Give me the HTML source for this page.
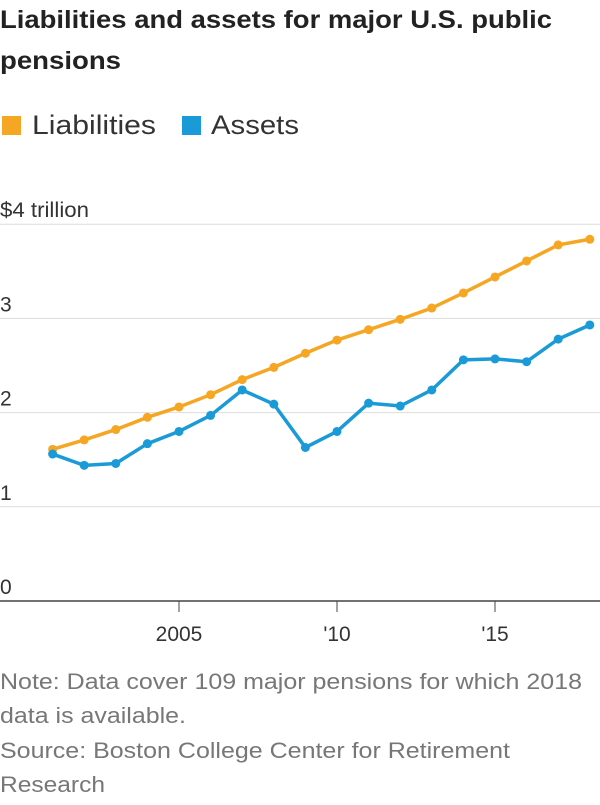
<!DOCTYPE html>
<html><head><meta charset="utf-8"><style>
body{margin:0;background:#fff;width:600px;height:800px;overflow:hidden;font-family:"Liberation Sans",sans-serif;}
svg text{font-family:"Liberation Sans",sans-serif;}
</style></head><body>
<svg width="600" height="800">
<text x="0" y="28" font-size="25" font-weight="bold" fill="#222" textLength="552" lengthAdjust="spacingAndGlyphs">Liabilities and assets for major U.S. public</text>
<text x="0" y="69" font-size="25" font-weight="bold" fill="#222" textLength="121" lengthAdjust="spacingAndGlyphs">pensions</text>
<g>
<rect x="2" y="116" width="19" height="19" fill="#f5a623"/>
<text x="32" y="134" font-size="27" fill="#333" textLength="124" lengthAdjust="spacingAndGlyphs">Liabilities</text>
<rect x="182" y="116" width="19" height="19" fill="#1a9ad6"/>
<text x="211" y="134" font-size="27" fill="#333" textLength="88" lengthAdjust="spacingAndGlyphs">Assets</text>
</g>
<g id="plot"></g>
<text x="0" y="689" font-size="22" fill="#777" textLength="582" lengthAdjust="spacingAndGlyphs">Note: Data cover 109 major pensions for which 2018</text>
<text x="0" y="723" font-size="22" fill="#777" textLength="186" lengthAdjust="spacingAndGlyphs">data is available.</text>
<text x="0" y="758" font-size="22" fill="#777" textLength="510" lengthAdjust="spacingAndGlyphs">Source: Boston College Center for Retirement</text>
<text x="0" y="792" font-size="22" fill="#777" textLength="105" lengthAdjust="spacingAndGlyphs">Research</text>
</svg>
<script>
const years=[2001,2002,2003,2004,2005,2006,2007,2008,2009,2010,2011,2012,2013,2014,2015,2016,2017,2018];
const liabilities=[1.61,1.71,1.82,1.95,2.06,2.19,2.35,2.48,2.63,2.77,2.88,2.99,3.11,3.27,3.44,3.61,3.78,3.84];
const assets=[1.56,1.44,1.46,1.67,1.80,1.97,2.24,2.09,1.63,1.80,2.10,2.07,2.24,2.56,2.57,2.54,2.78,2.93];
const yTicks=[0,1,2,3,4];
const yTickLabels=["0","1","2","3","$4 trillion"];
const xTicks=[2005,2010,2015];
const xTickLabels=["2005","'10","'15"];
const NS="http://www.w3.org/2000/svg";
const g=document.getElementById('plot');
const x=v=>179+(v-2005)*31.6;
const y=v=>601-v*94.2;
function mk(t,a){const e=document.createElementNS(NS,t);for(const k in a)e.setAttribute(k,a[k]);g.appendChild(e);return e;}
yTicks.forEach((t,i)=>{
  const l=mk('line',{x1:0,x2:600,y1:y(t),y2:y(t),stroke:t===0?'#444':'#ddd','stroke-width':t===0?1.5:1});
  
  
  const attrs={x:0,y:y(t)-7,'font-size':21,fill:'#333'};
  if(t===4){attrs.textLength=89;attrs.lengthAdjust='spacingAndGlyphs';}
  const tx=mk('text',attrs);
  tx.textContent=yTickLabels[i];
  
  
});
xTicks.forEach((t,i)=>{
  const l=mk('line',{x1:x(t),x2:x(t),y1:y(0),y2:y(0)+11,stroke:'#444','stroke-width':1});
  
  
  const tx=mk('text',{x:x(t),y:y(0)+40,'font-size':21,fill:'#333','text-anchor':'middle'});
  tx.textContent=xTickLabels[i];
  
  
});
function series(vals,color,name){
  const p=mk('polyline',{points:vals.map((v,i)=>x(years[i])+','+y(v)).join(' '),fill:'none',stroke:color,'stroke-width':3.5});
  
  
  vals.forEach((v,i)=>{
    const c=mk('circle',{cx:x(years[i]),cy:y(v),r:4.5,fill:color});
    
    
  });
}
series(liabilities,'#f5a623','liabilities');
series(assets,'#1a9ad6','assets');
</script>
</body></html>
